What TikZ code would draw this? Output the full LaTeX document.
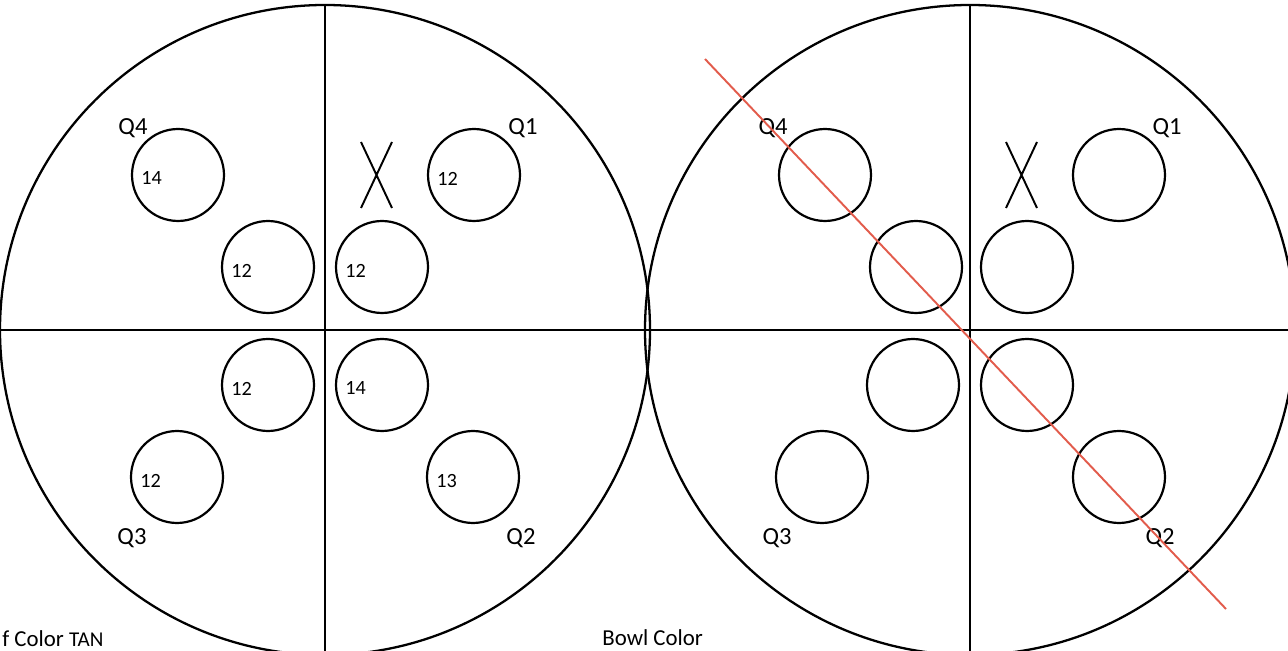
\documentclass[tikz,border=0pt]{standalone}
\usepackage{fontspec}
\setmainfont{Carlito}
\usepackage{tikz}
\usetikzlibrary{arrows.meta,positioning}
\definecolor{cutred}{RGB}{226,92,76}

\begin{document}
\begin{tikzpicture}[
  x=0.02cm, y=-0.02cm,
  plate/.style={line width=1.3pt},
  spot/.style={circle,draw,line width=1.25pt,minimum size=1.84cm,inner sep=0pt},
  count/.style={anchor=west,inner sep=0pt,font=\fontsize{11.5}{13}\selectfont},
  quad/.style={inner sep=0pt,font=\fontsize{14}{16}\selectfont},
  caption/.style={anchor=base west,inner sep=0pt,font=\fontsize{13}{15}\selectfont},
  cut/.style={cutred,line width=1.1pt},
  >=Stealth
]
  \useasboundingbox (0,0) rectangle (1288,651);

  % Plates
  \draw[plate] (325,330) circle[radius=325];
  \draw[plate] (970,330) circle[radius=325];
  \draw[plate] (325,5) -- (325,655);
  \draw[plate] (970,5) -- (970,655);
  \draw[plate] (0,330) -- (1288,330);

  % Left plate spots
  \node[spot] (lq4a) at (178,175) {};
  \node[spot] (lq4b) at (268,267) {};
  \node[spot] (lq1a) at (474,175) {};
  \node[spot] (lq1b) at (382,267) {};
  \node[spot] (lq3b) at (268,385) {};
  \node[spot] (lq3a) at (177,477) {};
  \node[spot] (lq2b) at (382,385) {};
  \node[spot] (lq2a) at (473,477) {};

  % Counts
  \node[count] (n4a) at ([xshift=0.2cm,yshift=-0.07cm]lq4a.west) {14};
  \node[count] (n4b) at ([xshift=0.2cm,yshift=-0.07cm]lq4b.west) {12};
  \node[count] (n1a) at ([xshift=0.2cm,yshift=-0.07cm]lq1a.west) {12};
  \node[count] (n1b) at ([xshift=0.2cm,yshift=-0.07cm]lq1b.west) {12};
  \node[count] (n3b) at ([xshift=0.2cm,yshift=-0.07cm]lq3b.west) {12};
  \node[count] (n3a) at ([xshift=0.2cm,yshift=-0.07cm]lq3a.west) {12};
  \node[count] (n2b) at ([xshift=0.2cm,yshift=-0.07cm]lq2b.west) {14};
  \node[count] (n2a) at ([xshift=0.2cm,yshift=-0.09cm]lq2a.west) {13};

  % Right plate spots
  \node[spot] (rq4a) at (825,175) {};
  \node[spot] (rq4b) at (916,267) {};
  \node[spot] (rq1a) at (1119,175) {};
  \node[spot] (rq1b) at (1027,267) {};
  \node[spot] (rq3b) at (913,385) {};
  \node[spot] (rq3a) at (822,477) {};
  \node[spot] (rq2b) at (1027,385) {};
  \node[spot] (rq2a) at (1119,477) {};

  % Missing spot marks
  \draw[line width=1.1pt] (361,142) -- (392,208) (392,142) -- (361,208);
  \draw[line width=1.1pt] (1006,142) -- (1037,208) (1037,142) -- (1006,208);

  % Quadrant labels
  \node[quad] (lQ4) at (133,128) {Q4};
  \node[quad] (lQ1) at (523,128) {Q1};
  \node[quad] (lQ3) at (132,538) {Q3};
  \node[quad] (lQ2) at (521,538) {Q2};
  \node[quad] (rQ4) at (773,128) {Q4};
  \node[quad] (rQ1) at (1167,128) {Q1};
  \node[quad] (rQ3) at (777,538) {Q3};
  \node[quad] (rQ2) at (1160,538) {Q2};

  % Cut line
  \coordinate (cutA) at (705,59);
  \coordinate (cutB) at (1226,609);
  \draw[cut] (cutA) -- (cutB);

  % Captions
  \node[caption] (leafcol) at (2,646) {f Color {\fontsize{12}{14}\selectfont TAN}};
  \node[caption] (bowlcol) at (602,645) {Bowl Color};
\end{tikzpicture}
\end{document}
